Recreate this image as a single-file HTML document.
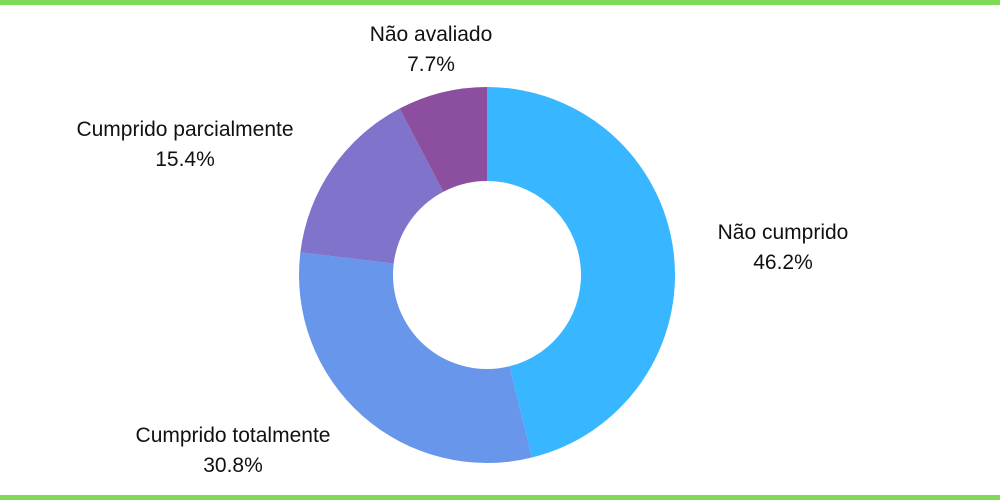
<!DOCTYPE html>
<html><head><meta charset="utf-8"><style>
body{margin:0;width:1000px;height:500px;background:#fff;overflow:hidden;font-family:"Liberation Sans",sans-serif}
.bar{position:absolute;left:0;width:1000px;height:5px;background:#7ed957}
</style></head><body>
<div class="bar" style="top:0"></div>
<div class="bar" style="top:495px"></div>
<svg id="chart" width="1000" height="500" style="position:absolute;left:0;top:0"></svg>
<script>
const categories=["Não cumprido","Cumprido totalmente","Cumprido parcialmente","Não avaliado"];
const values=[46.2,30.8,15.4,7.7];
const colors=["#38b6ff","#6796ea","#8073cc","#8c4f9f"];
const labelPos=[[783,239],[233,442],[185,136],[431,41]];
const cx=487,cy=275,R=188,r=94;
const svg=document.getElementById('chart');
const NS="http://www.w3.org/2000/svg";
const total=values.reduce((a,b)=>a+b,0);
let a0=-Math.PI/2;
function pt(a,rad){return [cx+rad*Math.cos(a),cy+rad*Math.sin(a)];}
values.forEach((v,i)=>{
  const a1=a0+v/total*2*Math.PI;
  const large=(a1-a0)>Math.PI?1:0;
  const [x0,y0]=pt(a0,R),[x1,y1]=pt(a1,R),[x2,y2]=pt(a1,r),[x3,y3]=pt(a0,r);
  const p=document.createElementNS(NS,'path');
  p.setAttribute('d',`M${x0},${y0}A${R},${R} 0 ${large} 1 ${x1},${y1}L${x2},${y2}A${r},${r} 0 ${large} 0 ${x3},${y3}Z`);
  p.setAttribute('fill',colors[i]);
  
  
  svg.appendChild(p);
  const t=document.createElementNS(NS,'text');
  t.setAttribute('x',labelPos[i][0]);t.setAttribute('y',labelPos[i][1]);
  t.setAttribute('text-anchor','middle');t.setAttribute('font-size','21');t.setAttribute('fill','#111');
  t.setAttribute('font-family','Liberation Sans, sans-serif');
  
  
  const s1=document.createElementNS(NS,'tspan');s1.setAttribute('x',labelPos[i][0]);s1.textContent=categories[i];
  const s2=document.createElementNS(NS,'tspan');s2.setAttribute('x',labelPos[i][0]);s2.setAttribute('dy','30');s2.textContent=v.toFixed(1)+'%';
  t.appendChild(s1);t.appendChild(s2);svg.appendChild(t);
  a0=a1;
});
</script>
</body></html>
